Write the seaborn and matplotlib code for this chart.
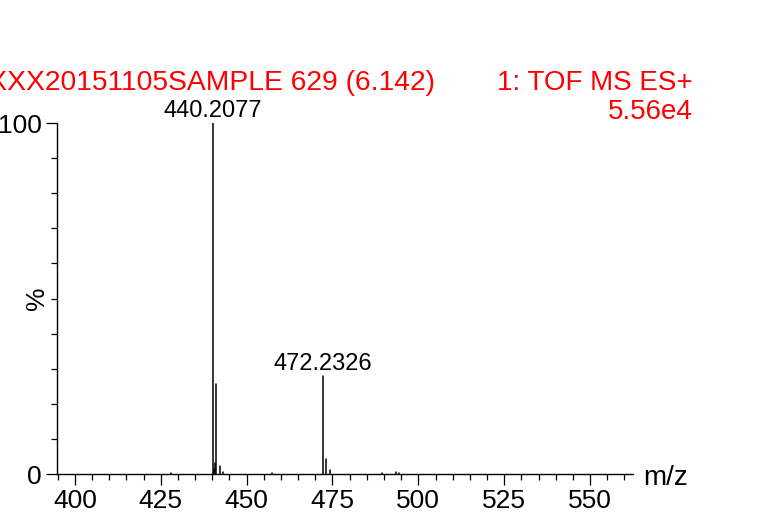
import pandas as pd
import seaborn as sns
import matplotlib.pyplot as plt
from matplotlib.ticker import MultipleLocator

# Espectro de massa (m/z e intensidade relativa em %)
mz = [427.9, 440.2077, 440.45, 440.7, 441.2107, 442.2, 443.2, 457.5,
      472.2326, 473.236, 474.2, 489.4, 493.5, 494.3]
intensity = [0.3, 100.0, 1.5, 3.0, 25.5, 2.2, 0.5, 0.3,
             28.0, 4.2, 1.0, 0.3, 0.6, 0.3]
peak_labels = ["440.2077", "472.2326"]
peak_label_mz = [440.2077, 472.2326]
peak_label_int = [100.0, 28.0]
x_ticks = [400, 425, 450, 475, 500, 525, 550]
title_left = "UXXX20151105SAMPLE 629 (6.142)"
title_right = "1: TOF MS ES+"
scale_text = "5.56e4"

sns.set_theme(style="ticks")
plt.rcParams["font.family"] = ["Liberation Sans", "DejaVu Sans"]
plt.rcParams.update({
    "text.color": "black",
    "xtick.color": "black",
    "ytick.color": "black",
    "xtick.labelcolor": "black",
    "ytick.labelcolor": "black",
})

# Linhas verticais (sticks): cada pico é uma unidade 0 -> altura
xs, ys, ids = [], [], []
for i, (m, h) in enumerate(zip(mz, intensity)):
    xs += [m, m]
    ys += [0, h]
    ids += [i, i]
df = pd.DataFrame({"mz": xs, "int": ys, "peak": ids})

fig = plt.figure(figsize=(7.64, 5.18), dpi=100)
ax = fig.add_axes([57 / 764, 44 / 518, 576 / 764, 351 / 518])
sns.lineplot(data=df, x="mz", y="int", units="peak", estimator=None,
             sort=False, color="black", linewidth=1.1, ax=ax)

ax.set_xlim(394.8, 562.5)
ax.set_ylim(0, 100)
ax.set_xticks(x_ticks)
ax.xaxis.set_minor_locator(MultipleLocator(5))
ax.set_yticks([0, 100])
ax.yaxis.set_minor_locator(MultipleLocator(10))
ax.tick_params(which="major", length=8, width=0.9, color="black",
               labelsize=19, labelcolor="black", pad=3)
ax.tick_params(which="minor", length=4.3, width=0.9, color="black")
ax.set_xlabel("")
ax.set_ylabel("")
sns.despine(ax=ax)
for s in ["left", "bottom"]:
    ax.spines[s].set_linewidth(1.0)
    ax.spines[s].set_color("black")

# Rótulos dos picos
for lab, m, h in zip(peak_labels, peak_label_mz, peak_label_int):
    ax.annotate(lab, (m, h), xytext=(0, 4), textcoords="offset points",
                ha="center", va="baseline", fontsize=17, color="black")

ax.text(-0.035, 0.5, "%", transform=ax.transAxes, rotation=90,
        ha="center", va="center", fontsize=19, color="black")
ax.text(1.017, -0.031, "m/z", transform=ax.transAxes,
        ha="left", va="baseline", fontsize=20, color="black")

# Cabeçalho em vermelho
fig.text(435 / 764, 1 - 90 / 518, title_left, ha="right", va="baseline",
         fontsize=20.3, color="red")
fig.text(693 / 764, 1 - 90 / 518, title_right, ha="right", va="baseline",
         fontsize=20, color="red")
fig.text(693 / 764, 1 - 119 / 518, scale_text, ha="right", va="baseline",
         fontsize=20, color="red")

fig.savefig("out.png", dpi=100)
